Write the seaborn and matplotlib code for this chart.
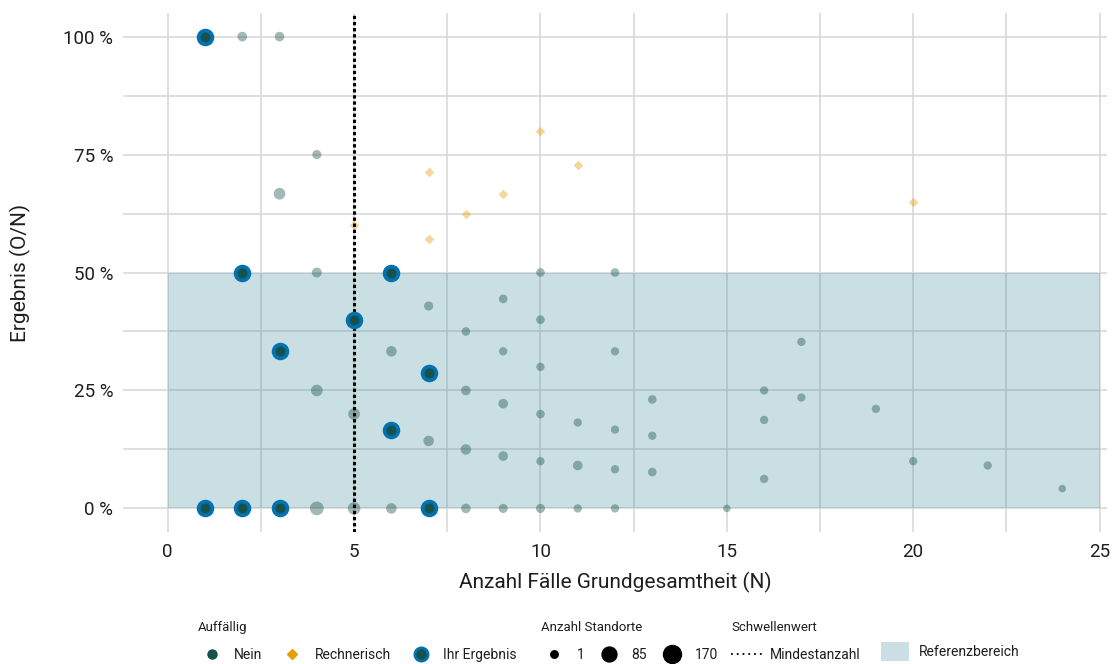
import numpy as np
import pandas as pd
import matplotlib
matplotlib.use("Agg")
import matplotlib.pyplot as plt
import seaborn as sns
from matplotlib.lines import Line2D
from matplotlib.patches import Patch
from matplotlib.ticker import MultipleLocator, FuncFormatter

# ---------------- data ----------------
# "Nein" (not conspicuous) sites: N, result (%), number of sites
nein_n = [2, 3, 4, 3, 4, 10, 12, 9, 7, 10, 8, 6, 9, 12, 17, 10, 4, 8, 16, 9, 13, 17, 19,
          5, 10, 11, 16, 12, 13, 7, 8, 9, 10, 11, 20, 22, 12, 13, 16, 24,
          4, 5, 6, 8, 9, 10, 11, 12, 15]
nein_pct = [100, 100, 75, 66.7, 50, 50, 50, 44.4, 42.9, 40, 37.5, 33.3, 33.3, 33.3, 35.3, 30, 25, 25, 25,
            22.2, 23.1, 23.5, 21.1, 20, 20, 18.2, 18.75, 16.7, 15.4, 14.3, 12.5, 11.1, 10, 9.1, 10, 9.1,
            8.3, 7.7, 6.25, 4.2,
            0, 0, 0, 0, 0, 0, 0, 0, 0]
nein_count = [8, 8, 5, 28, 10, 3, 3, 3, 5, 3, 3, 15, 2, 2, 2, 2, 28, 8, 2, 8, 3, 2, 2,
              28, 3, 2, 2, 2, 2, 15, 15, 8, 2, 8, 2, 2, 2, 3, 2, 1,
              60, 40, 15, 8, 5, 5, 2, 2, 1]

# "Rechnerisch" (computationally conspicuous)
rech_n = [10, 11, 7, 9, 20, 8, 5, 7]
rech_pct = [80, 72.7, 71.4, 66.7, 65, 62.5, 60, 57.1]

# "Ihr Ergebnis" (own results)
ihr_n = [1, 2, 6, 5, 3, 7, 6, 1, 2, 3, 7]
ihr_pct = [100, 50, 50, 40, 33.3, 28.6, 16.7, 0, 0, 0, 0]

# thresholds / reference range
mindestanzahl = 5
ref_low, ref_high = 0, 50
ref_x_start, ref_x_end = 0, 25

size_legend_values = [1, 85, 170]
x_ticks = [0, 5, 10, 15, 20, 25]
y_ticks = [0, 25, 50, 75, 100]

# ---------------- style ----------------
col_nein = "#17514c"
col_rech = "#E69F00"
col_ihr_edge = "#0072B2"
col_band = "#2E8290"
col_text = "#1e1e1e"
W, H = 1113, 664

sns.set_theme(style="white")
plt.rcParams['font.family'] = ['Roboto', 'DejaVu Sans']


def px_to_area(n):
    d_px = 7.5 + 10.5 * np.sqrt((n - 1) / 169.0)
    d_pt = d_px * 0.72
    return d_pt ** 2


fig = plt.figure(figsize=(W / 100, H / 100), dpi=100)
ax = fig.add_axes([123 / W, 1 - 532 / H, (1107 - 123) / W, (532 - 13) / H])

ax.set_xlim(-1.2, 25.2)
ax.set_ylim(-5, 105)
ax.xaxis.set_major_locator(MultipleLocator(5))
ax.xaxis.set_minor_locator(MultipleLocator(2.5))
ax.yaxis.set_major_locator(MultipleLocator(25))
ax.yaxis.set_minor_locator(MultipleLocator(12.5))
ax.set_xticks(x_ticks)
ax.set_yticks(y_ticks)
ax.yaxis.set_major_formatter(FuncFormatter(lambda v, p: f"{v:.0f} %"))
ax.grid(which="both", color="#d6d6d6", lw=1.1)
ax.set_axisbelow(True)
for s in ax.spines.values():
    s.set_visible(False)
ax.tick_params(which="both", length=0, labelsize=13.5, colors=col_text)
ax.tick_params(axis="y", pad=7)
ax.tick_params(axis="x", pad=8)

# reference band
ax.fill_between([ref_x_start, ref_x_end], ref_low, ref_high, color=col_band, alpha=0.25,
                lw=0, zorder=1)

df_nein = pd.DataFrame({"N": nein_n, "pct": nein_pct, "count": nein_count})
df_rech = pd.DataFrame({"N": rech_n, "pct": rech_pct})
df_ihr = pd.DataFrame({"N": ihr_n, "pct": ihr_pct})

size_map = {c: px_to_area(c) for c in sorted(set(nein_count))}
sns.scatterplot(data=df_nein, x="N", y="pct", size="count", sizes=size_map, color=col_nein,
                alpha=0.4, linewidth=0, legend=False, ax=ax, zorder=3)
sns.scatterplot(data=df_rech, x="N", y="pct", marker="D", s=24, color=col_rech, alpha=0.4,
                linewidth=0, legend=False, ax=ax, zorder=3)

ax.axvline(mindestanzahl, color="black", ls=(0, (1.1, 0.9)), lw=2.2, zorder=4)

sns.scatterplot(data=df_ihr, x="N", y="pct", s=98, color=col_nein, edgecolor=col_ihr_edge,
                linewidth=2.7, legend=False, ax=ax, zorder=5)

ax.set_xlabel("Anzahl Fälle Grundgesamtheit (N)", fontsize=15, color=col_text)
ax.set_ylabel("Ergebnis (O/N)", fontsize=15, color=col_text)
ax.xaxis.set_label_coords(0.5, (532 - 582) / 519)
ax.xaxis.label.set_va("center")
ax.yaxis.set_label_coords((20 - 123) / 984, 0.5)
ax.yaxis.label.set_va("center")

# ---------------- legends ----------------
leg_top = 1 - 621 / H
leg_kw = dict(frameon=False, borderpad=0, borderaxespad=0, fontsize=10, title_fontsize=9.5,
              alignment="left", loc="upper left", bbox_transform=fig.transFigure,
              labelspacing=1.0, labelcolor=col_text)

h1 = [Line2D([], [], ls="", marker="o", color=col_nein, markersize=6.5),
      Line2D([], [], ls="", marker="D", color=col_rech, markersize=5.3),
      Line2D([], [], ls="", marker="o", mfc=col_nein, mec=col_ihr_edge, markersize=9.5, mew=2.0)]
leg1 = fig.legend(h1, ["Nein", "Rechnerisch", "Ihr Ergebnis"], title="Auffällig", ncol=3,
                  bbox_to_anchor=(198 / W, leg_top), handlelength=2.0, handletextpad=0.6,
                  columnspacing=1.15, **leg_kw)

size_d = [np.sqrt(px_to_area(v)) for v in size_legend_values]
h2 = [Line2D([], [], ls="", marker="o", color="black", markersize=d) for d in size_d]
leg2 = fig.legend(h2, [str(v) for v in size_legend_values], title="Anzahl Standorte", ncol=3,
                  bbox_to_anchor=(541 / W, leg_top), handlelength=1.9, handletextpad=0.65,
                  columnspacing=0.86, **leg_kw)

h3 = [Line2D([], [], color="black", ls=(0, (1, 2.2)), lw=1.3)]
leg3 = fig.legend(h3, ["Mindestanzahl"], title="Schwellenwert",
                  bbox_to_anchor=(731 / W, leg_top), handlelength=2.2, handletextpad=0.6,
                  **leg_kw)

h4 = [Patch(facecolor=col_band, alpha=0.25, edgecolor="none")]
leg4 = fig.legend(h4, ["Referenzbereich"], title=" ",
                  bbox_to_anchor=(881 / W, leg_top), handlelength=2.0, handleheight=1.65,
                  handletextpad=0.7, **{**leg_kw, "labelspacing": 0.6})
for lg in (leg1, leg2, leg3, leg4):
    lg.get_title().set_color(col_text)

fig.savefig("out.png", dpi=100)
